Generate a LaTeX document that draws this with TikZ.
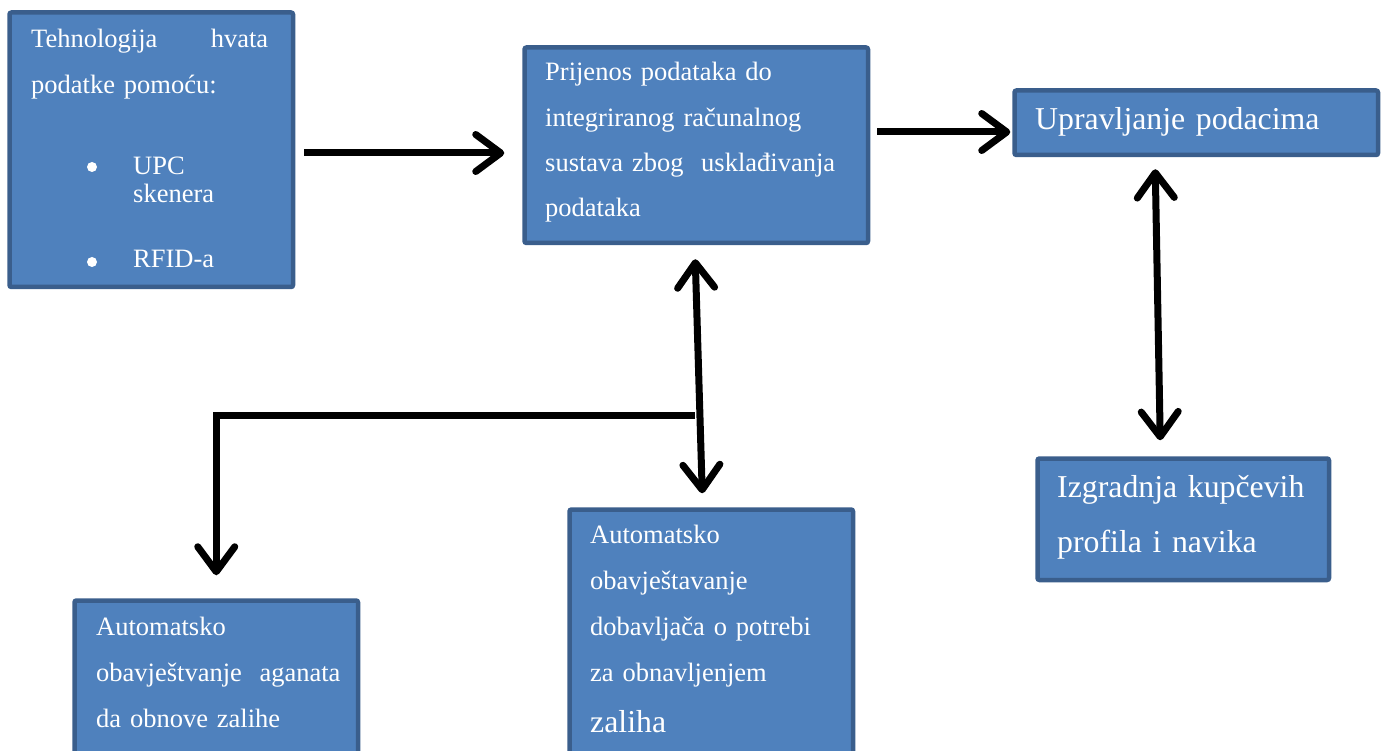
\documentclass[tikz,border=0pt]{standalone}
\usepackage{fontspec}
\setmainfont{Liberation Serif}
\usetikzlibrary{arrows.meta}
\definecolor{boxfill}{HTML}{4F81BD}
\definecolor{boxline}{HTML}{3A5E8C}
\begin{document}
\begin{tikzpicture}[x=1pt,y=-1pt,
  box/.style={draw=boxline, fill=boxfill, line width=4.5pt, rounded corners=2pt, anchor=north west, inner sep=0pt},
  txt/.style={text=white, anchor=base west, inner sep=0pt, align=left, text width=330pt, font=\fontsize{26.5}{46}\selectfont},
  big/.style={text=white, anchor=base west, inner sep=0pt, align=left, text width=330pt, font=\fontsize{31.8}{55}\selectfont},
  tip/.tip={Straight Barb[length=25pt,width=37pt,round]},
  arr/.style={line width=7pt, -tip},
  darr/.style={line width=7pt, tip-tip},
]
\useasboundingbox (0,0) rectangle (1382,751);

% boxes
\node[box, minimum width=283.5pt, minimum height=274.5pt] (A) at (7.25,10.25) {};
\node[box, minimum width=343.5pt, minimum height=195.5pt] (B) at (522.25,45.25) {};
\node[box, minimum width=363.5pt, minimum height=64.5pt] (C) at (1012.25,88.25) {};
\node[box, minimum width=291.5pt, minimum height=121.5pt] (D) at (1035.25,456.25) {};
\node[box, minimum width=283.5pt, minimum height=180pt] (E) at (72.25,598.25) {};
\node[box, minimum width=283.5pt, minimum height=270pt] (F) at (567.25,507.25) {};

% texts
\node[txt] (tA) at (31,48) {\makebox[237pt][l]{Tehnologija\hfill hvata}\\podatke pomoću:};
\fill[white] (92,167) circle (5pt);
\node[txt, font=\fontsize{26.5}{28}\selectfont] (tA2) at (133,175) {UPC\\skenera};
\fill[white] (92,262) circle (5pt);
\node[txt] (tA3) at (133,268) {RFID-a};

\node[txt, font=\fontsize{26.5}{45.3}\selectfont] (tB) at (545,81) {Prijenos podataka do\\integriranog računalnog\\sustava zbog\ \ usklađivanja\\podataka};
\node[big] (tC) at (1035,130) {Upravljanje podacima};
\node[big] (tD) at (1057,497) {Izgradnja kupčevih\\profila i navika};
\node[txt] (tE) at (96,635) {Automatsko\\obavještvanje\ \ aganata\\da obnove zalihe};
\node[txt] (tF) at (590,543) {Automatsko\\obavještavanje\\dobavljača o potrebi\\za obnavljenjem};
\node[big] (tF2) at (590,732) {zaliha};

% connectors
\coordinate (ab) at (0,153);
\coordinate (bc) at (0,132);
\draw[arr] ([xshift=9pt]A.east |- ab) -- ([xshift=-18pt]B.west |- ab);
\draw[arr] ([xshift=7pt]B.east |- bc) -- ([xshift=-2pt]C.west |- bc);
\draw[darr] ([xshift=-41pt,yshift=-12pt]C.south) -- ([xshift=-23pt,yshift=16pt]D.north);
\draw[darr] ([xshift=-1pt,yshift=-14pt]B.south) -- ([xshift=-9pt,yshift=14pt]F.north);
\coordinate (J) at (695,415);
\draw[arr] (J) -| ([yshift=23pt]E.north);
\end{tikzpicture}
\end{document}
